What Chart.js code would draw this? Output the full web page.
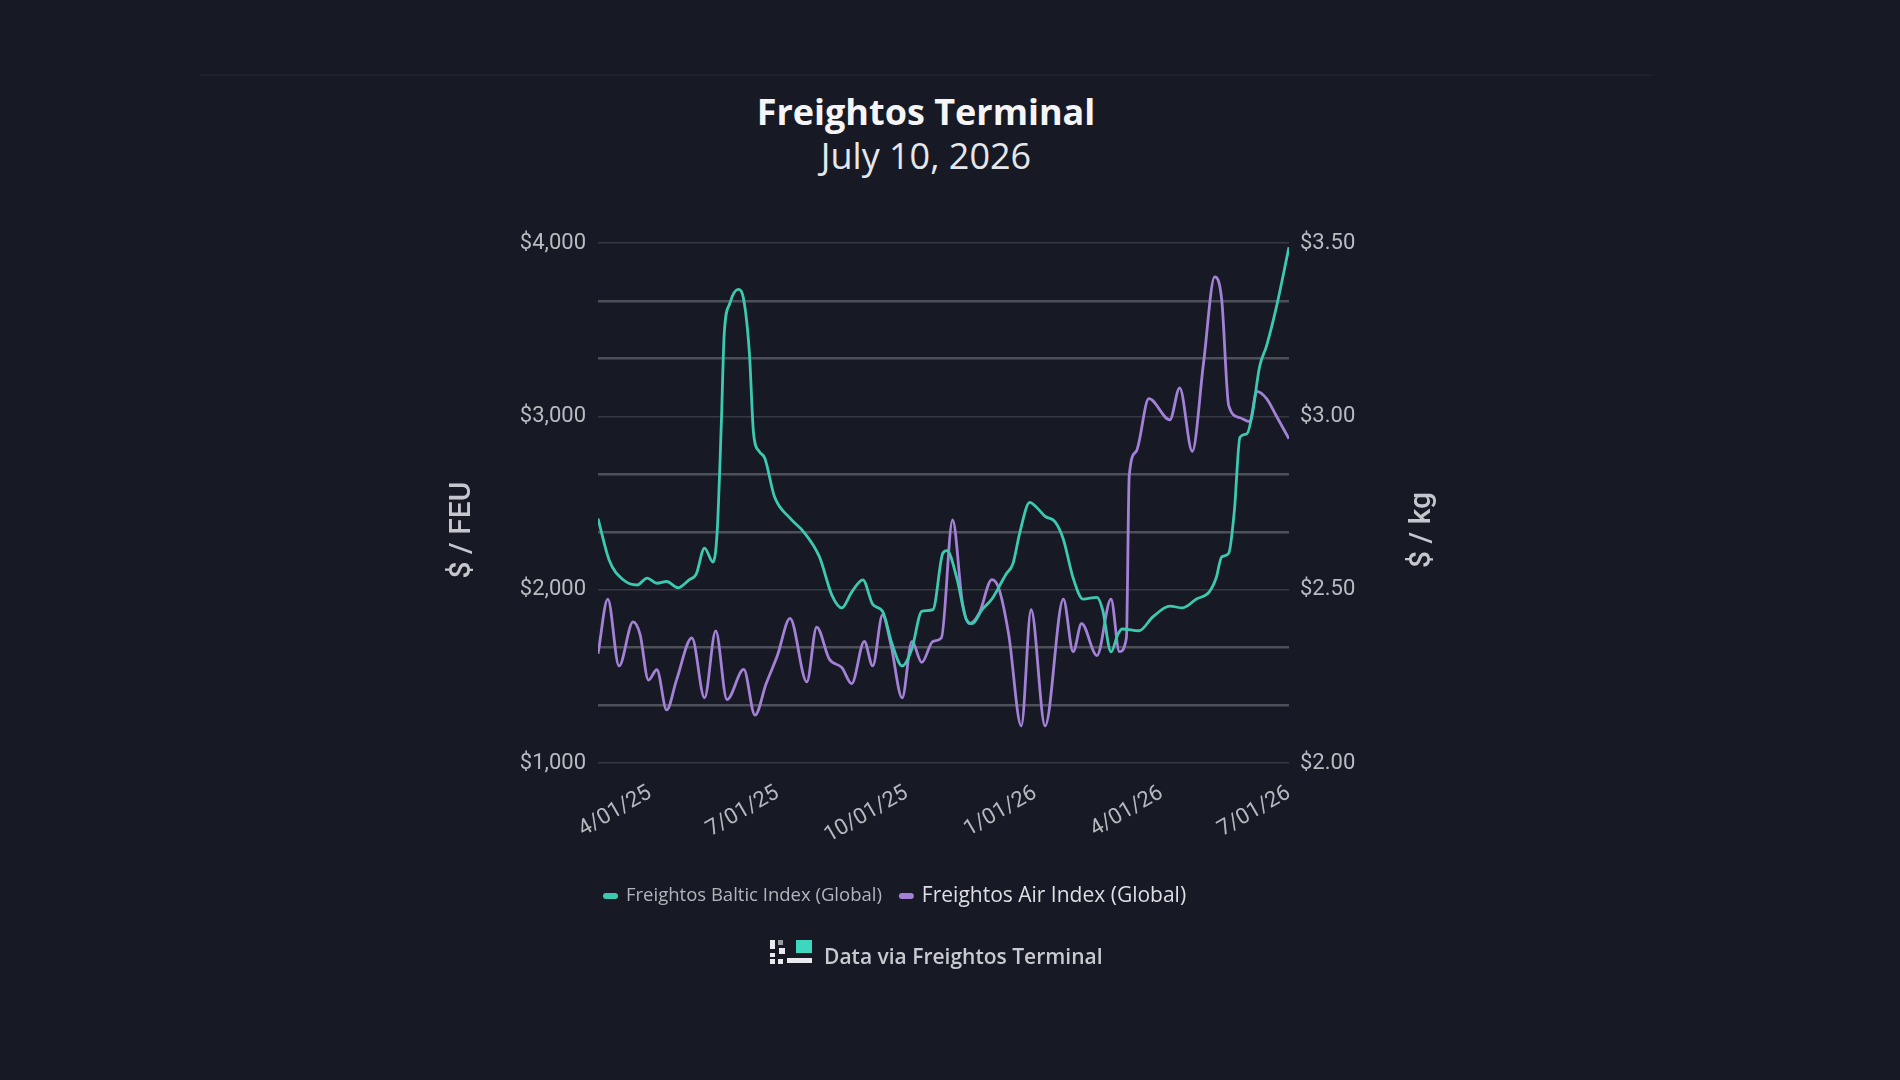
<!DOCTYPE html>
<html>
<head>
<meta charset="utf-8">
<title>Freightos Terminal</title>
<script src="https://cdn.jsdelivr.net/npm/chart.js@4.4.1/dist/chart.umd.min.js"></script>
<style>
  html, body { margin: 0; padding: 0; }
  body { width: 1900px; height: 1080px; background: #171a24; position: relative; overflow: hidden; font-family: "Open Sans", sans-serif; }
  #chart { position: absolute; left: 0; top: 0; }
  .rule { position: absolute; left: 200px; top: 74px; width: 1454px; height: 2px; background: #1d202b; }
  .title, .subtitle { position: absolute; left: 626px; width: 600px; text-align: center; white-space: nowrap; }
  .title { top: 94px; font-size: 36px; line-height: 36px; font-weight: 700; color: #f5f5f7; }
  .subtitle { top: 138px; font-size: 36px; line-height: 36px; color: #e6e7eb; }
  .footer { position: absolute; left: 824px; top: 946px; font-size: 21px; line-height: 21px; font-weight: 600; color: #c9cad0; white-space: nowrap; }
  .logo { position: absolute; left: 770px; top: 940px; width: 42px; height: 24px; }
  .logo i { position: absolute; display: block; background: #e9eaee; }
</style>
</head>
<body>
<div class="rule"></div>
<div class="title">Freightos Terminal</div>
<div class="subtitle">July 10, 2026</div>
<canvas id="chart" width="1900" height="1080"></canvas>
<div class="logo">
  <i style="left:0;top:0;width:5px;height:9px"></i>
  <i style="left:0;top:13px;width:5px;height:4px"></i>
  <i style="left:0;top:19px;width:5px;height:5px"></i>
  <i style="left:8px;top:0;width:5px;height:5px;background:#9a9ca3"></i>
  <i style="left:9px;top:8px;width:6px;height:6px"></i>
  <i style="left:8px;top:19px;width:5px;height:5px"></i>
  <i style="left:26px;top:0;width:16px;height:13px;background:#3fd6bf"></i>
  <i style="left:17px;top:18px;width:25px;height:5px"></i>
</div>
<div class="footer">Data via Freightos Terminal</div>

<script>
// Freightos Baltic Index (Global), $ / FEU
var fbxDates = [
  '2025-02-23','2025-03-03','2025-03-13','2025-03-23','2025-03-30','2025-04-06','2025-04-13','2025-04-21',
  '2025-04-29','2025-05-04','2025-05-10','2025-05-16','2025-05-19','2025-05-22','2025-05-24','2025-05-28',
  '2025-06-03','2025-06-07','2025-06-11','2025-06-14','2025-06-18','2025-06-22','2025-06-29','2025-07-10',
  '2025-07-20','2025-07-31','2025-08-09','2025-08-16','2025-08-23','2025-08-31','2025-09-07','2025-09-14',
  '2025-09-21','2025-09-28','2025-10-05','2025-10-12','2025-10-20','2025-10-27','2025-10-30','2025-11-06',
  '2025-11-13','2025-11-17','2025-11-24','2025-12-01','2025-12-11','2025-12-16','2025-12-21','2025-12-28',
  '2026-01-02','2026-01-08','2026-01-15','2026-01-21','2026-01-28','2026-02-04','2026-02-14','2026-02-18',
  '2026-02-24','2026-03-01','2026-03-04','2026-03-16','2026-03-26','2026-04-07','2026-04-16','2026-04-26',
  '2026-05-05','2026-05-10','2026-05-14','2026-05-19','2026-05-23','2026-05-27','2026-06-01','2026-06-05',
  '2026-06-10','2026-06-15','2026-06-22','2026-07-01'
];
var fbxValues = [
  2410, 2170, 2057, 2027, 2067, 2037, 2047, 2011,
  2057, 2088, 2240, 2159, 2331, 2961, 3468, 3651,
  3732, 3671, 3367, 2900, 2798, 2758, 2534, 2413,
  2331, 2189, 1966, 1895, 1986, 2057, 1915, 1875,
  1682, 1560, 1661, 1875, 1885, 2210, 2225, 2067,
  1824, 1804, 1885, 1946, 2088, 2149, 2331, 2504,
  2474, 2423, 2392, 2291, 2067, 1946, 1956, 1885,
  1641, 1743, 1773, 1763, 1844, 1905, 1895, 1946,
  1986, 2067, 2189, 2210, 2453, 2879, 2900, 3022,
  3286, 3407, 3630, 3976
];

// Freightos Air Index (Global), $ / kg
var faxDates = [
  '2025-02-23','2025-03-02','2025-03-10','2025-03-20','2025-03-25','2025-03-31','2025-04-06','2025-04-13',
  '2025-04-20','2025-05-01','2025-05-10','2025-05-18','2025-05-26','2025-06-07','2025-06-15','2025-06-23',
  '2025-07-01','2025-07-10','2025-07-22','2025-07-29','2025-08-07','2025-08-16','2025-08-23','2025-09-01',
  '2025-09-07','2025-09-14','2025-09-20','2025-09-28','2025-10-05','2025-10-12','2025-10-20','2025-10-26',
  '2025-11-03','2025-11-10','2025-11-15','2025-11-22','2025-12-01','2025-12-06','2025-12-13','2025-12-22',
  '2025-12-29','2026-01-08','2026-01-21','2026-01-28','2026-02-03','2026-02-14','2026-02-24','2026-03-02',
  '2026-03-07','2026-03-09','2026-03-14','2026-03-23','2026-04-07','2026-04-14','2026-04-23','2026-05-01',
  '2026-05-09','2026-05-14','2026-05-19','2026-05-27','2026-06-03','2026-06-08','2026-06-15','2026-06-22',
  '2026-07-01'
];
var faxValues = [
  2.315, 2.473, 2.280, 2.407, 2.371, 2.239, 2.269, 2.153,
  2.239, 2.361, 2.188, 2.381, 2.183, 2.270, 2.138, 2.229,
  2.310, 2.417, 2.234, 2.392, 2.300, 2.275, 2.229, 2.351,
  2.280, 2.427, 2.341, 2.188, 2.351, 2.290, 2.351, 2.361,
  2.701, 2.463, 2.402, 2.432, 2.529, 2.503, 2.371, 2.107,
  2.442, 2.107, 2.473, 2.321, 2.402, 2.310, 2.473, 2.321,
  2.361, 2.828, 2.899, 3.051, 2.990, 3.082, 2.899, 3.153,
  3.402, 3.336, 3.031, 2.996, 2.985, 3.072, 3.051, 3.001,
  2.935
];

var xStart = '2025-02-23';
var xEnd = '2026-07-01';
var tickDates = ['2025-04-01', '2025-07-01', '2025-10-01', '2026-01-01', '2026-04-01', '2026-07-01'];
var tickLabels = ['4/01/25', '7/01/25', '10/01/25', '1/01/26', '4/01/26', '7/01/26'];
var feuTicks = [1000, 2000, 3000, 4000];
var kgTicks = [2.00, 2.50, 3.00, 3.50];
var seriesNames = ['Freightos Baltic Index (Global)', 'Freightos Air Index (Global)'];
var axisTitles = ['$ / FEU', '$ / kg'];

(function () {
  'use strict';

  var TEAL = '#3dc9b0';
  var PURPLE = '#a281d6';
  var GRID_SPLITS = 3;

  function dayNum(s) {
    var p = s.split('-');
    return Date.UTC(+p[0], +p[1] - 1, +p[2]) / 864e5;
  }

  function points(dates, values) {
    return dates.map(function (d, i) { return { x: dayNum(d), y: values[i] }; });
  }

  function gridValues(ticks) {
    var out = [];
    for (var i = 0; i < ticks.length - 1; i++) {
      for (var k = 0; k < GRID_SPLITS; k++) out.push(ticks[i] + k * (ticks[i + 1] - ticks[i]) / GRID_SPLITS);
    }
    out.push(ticks[ticks.length - 1]);
    return out;
  }

  function isLabeled(v, ticks) {
    return ticks.some(function (t) { return Math.abs(t - v) < 1e-6; });
  }

  var tickFont = { family: 'Roboto', size: 22 };

  // axis titles + legend drawn over the chart
  var overlay = {
    id: 'overlay',
    afterDraw: function (chart) {
      var ctx = chart.ctx;
      ctx.save();
      ctx.fillStyle = '#c6c7cd';
      ctx.font = '500 30px Roboto';
      ctx.textAlign = 'center';
      ctx.textBaseline = 'middle';
      [[axisTitles[0], 462], [axisTitles[1], 1422]].forEach(function (t) {
        ctx.save();
        ctx.translate(t[1], 530);
        ctx.rotate(-Math.PI / 2);
        ctx.fillText(t[0], 0, 0);
        ctx.restore();
      });

      var x = 603, cy = 896;
      var sizes = [18.5, 21], colors = ['#b3b5bb', '#dedfe4'];
      ctx.textAlign = 'left';
      chart.data.datasets.forEach(function (ds, i) {
        ctx.fillStyle = ds.borderColor;
        ctx.beginPath();
        if (ctx.roundRect) ctx.roundRect(x, cy - 3, 15, 6, 3); else ctx.rect(x, cy - 3, 15, 6);
        ctx.fill();
        x += 23;
        ctx.font = sizes[i] + 'px "Open Sans"';
        ctx.fillStyle = colors[i];
        ctx.fillText(ds.label, x, cy);
        x += ctx.measureText(ds.label).width + 17;
      });
      ctx.restore();
    }
  };

  var canvas = document.getElementById('chart');
  new Chart(canvas.getContext('2d'), {
    type: 'line',
    data: {
      datasets: [
        { label: seriesNames[0], data: points(fbxDates, fbxValues), yAxisID: 'y', borderColor: TEAL, borderWidth: 2.8, pointRadius: 0, cubicInterpolationMode: 'monotone', fill: false },
        { label: seriesNames[1], data: points(faxDates, faxValues), yAxisID: 'y1', borderColor: PURPLE, borderWidth: 2.8, pointRadius: 0, cubicInterpolationMode: 'monotone', fill: false }
      ]
    },
    options: {
      responsive: false,
      animation: false,
      devicePixelRatio: 1,
      layout: { padding: { top: 243, left: 0, right: 0, bottom: 0 } },
      plugins: { legend: { display: false }, tooltip: { enabled: false } },
      scales: {
        x: {
          type: 'linear',
          min: dayNum(xStart),
          max: dayNum(xEnd),
          afterBuildTicks: function (s) { s.ticks = tickDates.map(function (d) { return { value: dayNum(d) }; }); },
          afterFit: function (s) { s.height = 1080 - 763; },
          grid: { display: false },
          border: { display: false },
          ticks: {
            autoSkip: false, minRotation: 30, maxRotation: 30, padding: 9,
            color: '#b6b8be', font: tickFont,
            callback: function (v, i) { return tickLabels[i]; }
          }
        },
        y: {
          position: 'left',
          min: feuTicks[0],
          max: feuTicks[feuTicks.length - 1],
          afterBuildTicks: function (s) { s.ticks = gridValues(feuTicks).map(function (v) { return { value: v }; }); },
          afterFit: function (s) { s.width = 598; },
          grid: {
            drawTicks: false,
            color: function (c) { return c.tick && isLabeled(c.tick.value, feuTicks) ? '#363944' : '#4d5059'; },
            lineWidth: function (c) { return c.tick && isLabeled(c.tick.value, feuTicks) ? 1.5 : 2.5; }
          },
          border: { display: false },
          ticks: {
            padding: 12, color: '#b9bbc1', font: tickFont,
            callback: function (v) { return isLabeled(v, feuTicks) ? '$' + Math.round(v).toLocaleString('en-US') : ''; }
          }
        },
        y1: {
          position: 'right',
          min: kgTicks[0],
          max: kgTicks[kgTicks.length - 1],
          afterBuildTicks: function (s) { s.ticks = kgTicks.map(function (v) { return { value: v }; }); },
          afterFit: function (s) { s.width = 1900 - 1289; },
          grid: { drawOnChartArea: false, drawTicks: false },
          border: { display: false },
          ticks: {
            padding: 11, color: '#b9bbc1', font: tickFont,
            callback: function (v) { return '$' + v.toFixed(2); }
          }
        }
      }
    },
    plugins: [overlay]
  });
})();
</script>
</body>
</html>
